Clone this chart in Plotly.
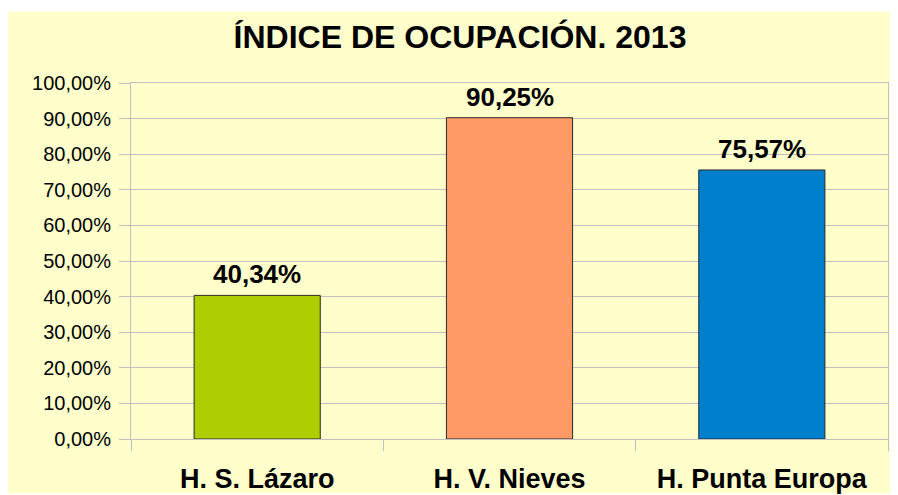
import plotly.graph_objects as go

categories = ["H. S. Lázaro", "H. V. Nieves", "H. Punta Europa"]
values = [0.4034, 0.9025, 0.7557]
bar_colors = ["#AFCD00", "#FF9966", "#0080CC"]
title_text = "ÍNDICE DE OCUPACIÓN. 2013"

W, H = 882, 487
L, R, T, B = 123, 1, 75, 53
PW, PH = W - L - R, H - T - B
FONT = "Liberation Sans, Arial, sans-serif"
GRID = "#C0C0C0"

fig = go.Figure()
fig.add_trace(go.Bar(
    x=categories, y=values, width=0.5,
    marker=dict(color=bar_colors, line=dict(color="#2a2a2a", width=1)),
    hoverinfo="skip",
))

for c, v in zip(categories, values):
    fig.add_annotation(
        x=c, y=v, xref="x", yref="y", yanchor="bottom", yshift=4,
        text="<b>" + format(v * 100, ".2f").replace(".", ",") + "%</b>",
        showarrow=False, font=dict(family=FONT, size=26, color="black"),
    )

fig.add_shape(type="rect", xref="paper", yref="paper", layer="below",
              x0=-L / PW - 0.01, x1=(W - L) / PW + 0.01,
              y0=-(B + 2) / PH, y1=(T - 3) / PH + 1,
              fillcolor="#FFFFCC", line=dict(width=0))

fig.update_layout(
    width=W, height=H,
    margin=dict(l=L, r=R, t=T, b=B),
    paper_bgcolor="white", plot_bgcolor="#FFFFCC",
    separators=",.",
    showlegend=False,
    title=dict(text="<b>" + title_text + "</b>", x=(460 - 8) / W, xanchor="center",
               y=1 - 29 / H, yanchor="middle",
               font=dict(family=FONT, size=32, color="black")),
    font=dict(family=FONT, color="black"),
)
fig.update_yaxes(
    range=[0, 1], dtick=0.1, tickformat=".2%",
    showgrid=True, gridcolor=GRID, gridwidth=1,
    showline=True, linecolor=GRID, linewidth=1, mirror=True,
    ticks="outside", ticklen=11, tickcolor=GRID, ticklabelstandoff=4,
    tickfont=dict(family=FONT, size=20, color="black"),
    zeroline=False, fixedrange=True,
)
fig.update_xaxes(
    showline=True, linecolor=GRID, linewidth=1, mirror=True,
    ticks="outside", ticklen=11, tickcolor=GRID, tickson="boundaries",
    ticklabelstandoff=16,
    tickfont=dict(family=FONT, size=27, color="black"),
    tickprefix="<b>", ticksuffix="</b>",
    fixedrange=True,
)

fig.write_html("out.html")
